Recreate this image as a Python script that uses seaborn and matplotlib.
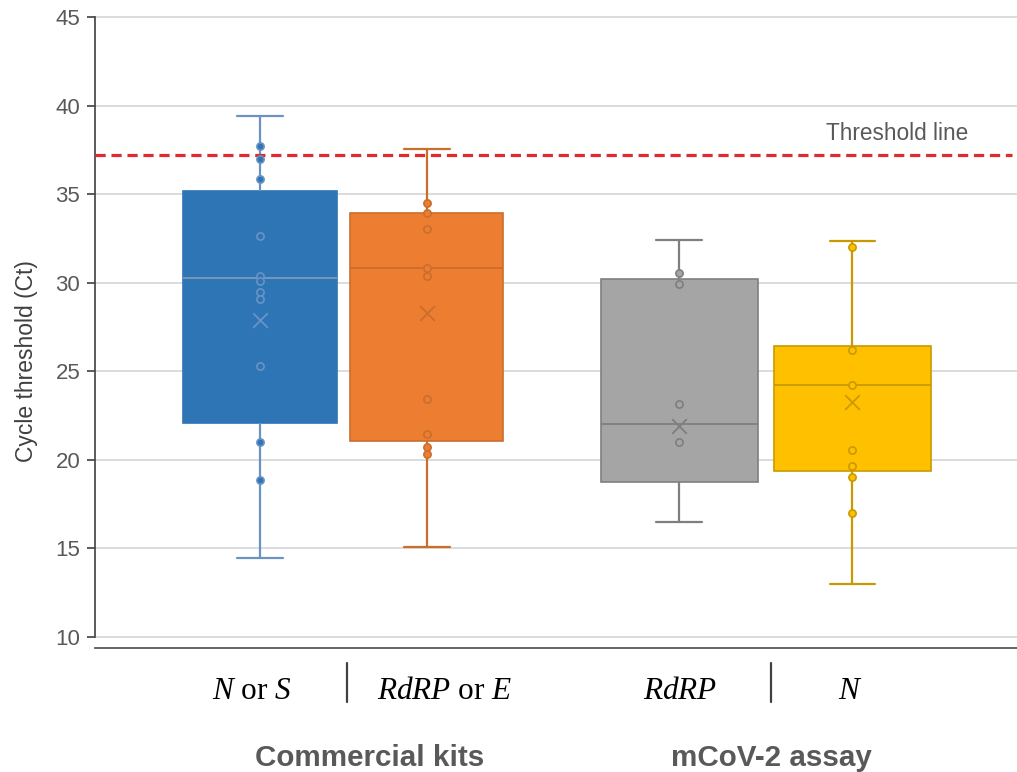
import numpy as np
import pandas as pd
import matplotlib
matplotlib.use("Agg")
import matplotlib.pyplot as plt
import seaborn as sns

# ---------------- data ----------------
groups = ["N or S", "RdRP or E", "RdRP", "N"]
group_labels = [r"$N$ or $S$", r"$RdRP$ or $E$", r"$RdRP$", r"$N$"]
category_labels = ["Commercial kits", "mCoV-2 assay"]

box_min = [14.46, 15.06, 16.47, 12.99]
box_q1 = [22.08, 21.05, 18.75, 19.36]
box_median = [30.27, 30.83, 22.04, 24.21]
box_q3 = [35.18, 33.95, 30.21, 26.45]
box_max = [39.41, 37.52, 32.41, 32.36]
means = [27.9, 28.31, 21.91, 23.27]

points_n_or_s = [37.72, 36.98, 35.87, 32.64, 30.38, 30.10, 29.5, 29.08, 25.32, 21.03, 18.86]
points_rdrp_or_e = [34.52, 33.92, 33.03, 30.83, 30.4, 23.42, 21.46, 20.74, 20.33]
points_rdrp = [30.53, 29.9, 23.14, 21.01]
points_n = [32.03, 26.2, 24.21, 20.54, 19.65, 19.02, 17.0]

threshold = 37.2
threshold_label = "Threshold line"
y_label = "Cycle threshold (Ct)"
y_ticks = [10, 15, 20, 25, 30, 35, 40, 45]

# ---------------- layout / style ----------------
positions = [0.0, 1.0, 2.515, 3.554]
widths = [0.92, 0.92, 0.94, 0.94]
fills = ["#2E75B6", "#ED7D31", "#A5A5A5", "#FFC000"]
lines = ["#6A93C4", "#C96E2C", "#7F7F7F", "#C99A00"]
box_edges = ["#2E75B6", "#C96E2C", "#7F7F7F", "#C99A00"]
median_colors = ["#7F9AB8", "#C96E2C", "#7F7F7F", "#C99A00"]
label_x = [-0.051, 1.107, 2.52, 3.54]
sep_x = [0.522, 3.065]
cat_x = [0.66, 3.07]

sns.set_theme(style="white")
plt.rcParams["font.family"] = ["Liberation Sans", "DejaVu Sans"]
plt.rcParams["mathtext.fontset"] = "custom"
plt.rcParams["mathtext.it"] = "Liberation Serif:italic"
plt.rcParams["mathtext.rm"] = "Liberation Serif"

fig = plt.figure(figsize=(10.17, 7.72), dpi=100)
ax = fig.add_axes([0.0939, 0.1606, 0.9061, 0.8213])

all_points = [points_n_or_s, points_rdrp_or_e, points_rdrp, points_n]

for i, g in enumerate(groups):
    stats_vals = [box_min[i], box_q1[i], box_median[i], box_q3[i], box_max[i]]
    df_box = pd.DataFrame({"pos": [positions[i]] * 5, "ct": stats_vals})
    sns.boxplot(data=df_box, x="pos", y="ct", native_scale=True, ax=ax,
                whis=(0, 100), width=widths[i], color=fills[i],
                linecolor=lines[i], linewidth=1.4, saturation=1,
                capwidths=0.275,
                boxprops=dict(edgecolor=box_edges[i], linewidth=1.2),
                medianprops=dict(color=median_colors[i], linewidth=1.3),
                whiskerprops=dict(color=lines[i], linewidth=1.6),
                capprops=dict(color=lines[i], linewidth=1.6),
                showfliers=False)
    df_pts = pd.DataFrame({"pos": [positions[i]] * len(all_points[i]),
                           "ct": all_points[i]})
    sns.stripplot(data=df_pts, x="pos", y="ct", native_scale=True, ax=ax,
                  jitter=False, size=5.2, color=fills[i], edgecolor=lines[i],
                  linewidth=1.2, zorder=5)
    sns.scatterplot(x=[positions[i]], y=[means[i]], ax=ax, marker="x",
                    s=110, color=lines[i], linewidth=1.3, zorder=6)

# threshold line
ax.axhline(threshold, color="#E2292B", linestyle=(0, (3.2, 1.8)), linewidth=2.3,
           xmin=0, xmax=0.995, zorder=4)
ax.text(3.824, threshold + 1.22, threshold_label, fontsize=16.3, color="#595959",
        ha="center", va="center")

ax.set_xlim(-0.987, 4.541)
ax.set_ylim(9.379, 45.17)
ax.set_yticks(y_ticks)
ax.set_yticklabels([str(t) for t in y_ticks])
ax.set_xticks([])
ax.set_xlabel("")
ax.set_ylabel(y_label, fontsize=16.5, color="#404040")
ax.yaxis.set_label_coords(-0.0625, 0.453)
ax.tick_params(axis="y", which="both", left=True, length=6, width=1.2,
               color="#404040", labelsize=16, labelcolor="#595959", pad=5)
ax.yaxis.grid(True, color="#D9D9D9", linewidth=1.3)
ax.set_axisbelow(True)
for s in ["top", "right"]:
    ax.spines[s].set_visible(False)
ax.spines["left"].set_bounds(10, 45)
ax.spines["left"].set_color("#404040")
ax.spines["left"].set_linewidth(1.2)
ax.spines["bottom"].set_color("#595959")
ax.spines["bottom"].set_linewidth(1.3)

trans = ax.get_xaxis_transform()
for x, lab in zip(label_x, group_labels):
    ax.text(x, -0.068, lab, transform=trans, ha="center", va="center",
            fontsize=22.5, family="Liberation Serif", color="black")
for x in sep_x:
    ax.plot([x, x], [-0.0237, -0.0852], transform=trans, color="#404040",
            linewidth=1.6, clip_on=False)
for x, lab in zip(cat_x, category_labels):
    ax.text(x, -0.174, lab, transform=trans, ha="center", va="center",
            fontsize=21.3, fontweight="bold", color="#595959")

fig.savefig("out.png", dpi=100)
